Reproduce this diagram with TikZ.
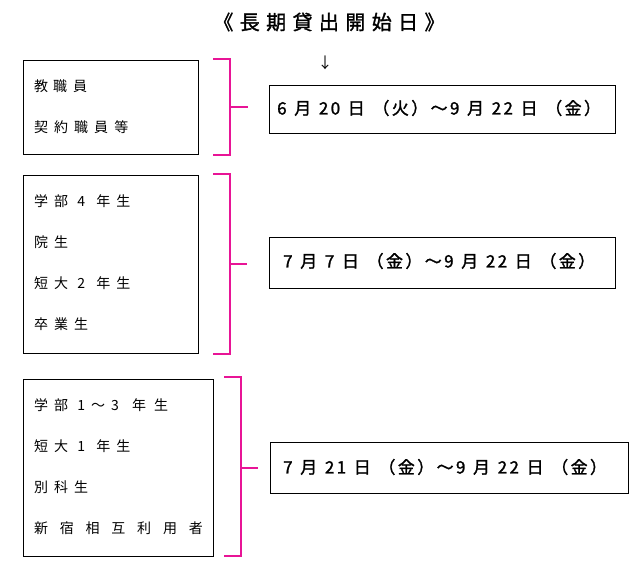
\documentclass[tikz,border=0pt]{standalone}
\usepackage{fontspec}
\setmainfont{Noto Sans CJK JP}
\newfontfamily\jplist[LetterSpace=43]{Noto Sans CJK JP}
\newfontfamily\jplistwide[LetterSpace=84]{Noto Sans CJK JP}
\newfontfamily\jpdate[LetterSpace=14,FakeBold=1.5]{Noto Sans CJK JP}
\newfontfamily\jptitle[LetterSpace=32,FakeBold=1.5]{Noto Sans CJK JP}
\definecolor{brkcol}{RGB}{232,20,150}
\newcommand{\dsp}{\hspace{0.45em}}
\usetikzlibrary{calc}
\begin{document}
\begin{tikzpicture}[x=1pt,y=-1pt,
  grp/.style={draw=black, line width=1pt, inner sep=0pt, anchor=north west},
  datebox/.style={draw=black, line width=1pt, inner sep=0pt, anchor=north west},
  listtxt/.style={anchor=west, inner sep=0pt, font=\jplist\fontsize{14}{16}\selectfont},
  listwide/.style={anchor=west, inner sep=0pt, font=\jplistwide\fontsize{14}{16}\selectfont},
  datetxt/.style={anchor=west, inner sep=0pt, font=\jpdate\fontsize{17}{20}\selectfont},
  brk/.style={draw=brkcol, line width=2pt}]
\useasboundingbox (0,0) rectangle (640,570);

\node[font=\jptitle\fontsize{20}{24}\selectfont] (title) at (329,22) {《長期貸出開始日》};
\node[font=\fontsize{15}{17}\selectfont] (arr) at (325,63) {↓};

% group boxes
\node[grp, minimum width=175pt, minimum height=94pt] (g1) at (22.5,59.5) {};
\node[grp, minimum width=175pt, minimum height=178pt] (g2) at (22.5,174.5) {};
\node[grp, minimum width=190pt, minimum height=177pt] (g3) at (22.5,378.5) {};

% date boxes
\node[datebox, minimum width=346pt, minimum height=48pt] (d1) at (268.5,84.5) {};
\node[datebox, minimum width=346pt, minimum height=51pt] (d2) at (268.5,236.5) {};
\node[datebox, minimum width=358pt, minimum height=51pt] (d3) at (269.5,441.5) {};

% list texts
\node[listtxt] (a1) at (34,86) {教\hspace{5pt}職員};
\node[listtxt] (a2) at (34,127) {契約職員等};
\node[listtxt] (b1) at (34,201) {学部 4\hspace{2pt} 年生};
\node[listtxt] (b2) at (34,242) {院生};
\node[listtxt] (b3) at (34,283) {短大 2\hspace{2pt} 年生};
\node[listtxt] (b4) at (34,324) {卒業生};
\node[listtxt] (c1) at (34,405) {学部 1～3\hspace{4pt} 年\hspace{8pt}生};
\node[listtxt] (c2) at (34,446) {短大 1\hspace{2pt} 年生};
\node[listtxt] (c3) at (34,487) {別科生};
\node[listwide] (c4) at (34,528) {新宿相互利用者};

% date texts
\node[datetxt] (e1) at (277,108) {6\dsp 月\dsp 20\dsp 日\dsp （火）～9\dsp 月\dsp 22\dsp 日\dsp （金）};
\node[datetxt] (e2) at (283,261) {7\dsp 月\dsp 7\dsp 日\dsp （金）～9\dsp 月\dsp 22\dsp 日\dsp （金）};
\node[datetxt] (e3) at (283,467) {7\dsp 月\dsp 21\dsp 日\dsp （金）～9\dsp 月\dsp 22\dsp 日\dsp （金）};

% brackets
\draw[brk] ($(g1.north east)+(14.5,-0.5)$) -- ++(17,0) -- ($(g1.south east)+(31.5,0.5)$) -- ++(-17,0);
\draw[brk] ($(g1.east)+(31.5,0)$) -- ++(18,0);
\draw[brk] ($(g2.north east)+(14.5,-0.5)$) -- ++(17,0) -- ($(g2.south east)+(31.5,0.5)$) -- ++(-17,0);
\draw[brk] ($(g2.east)+(31.5,0)$) -- ++(17,0);
\draw[brk] ($(g3.north east)+(10.5,-1.5)$) -- ++(17,0) -- ($(g3.south east)+(27.5,-0.5)$) -- ++(-17,0);
\draw[brk] ($(g3.east)+(27.5,0.5)$) -- ++(17,0);
\end{tikzpicture}
\end{document}
